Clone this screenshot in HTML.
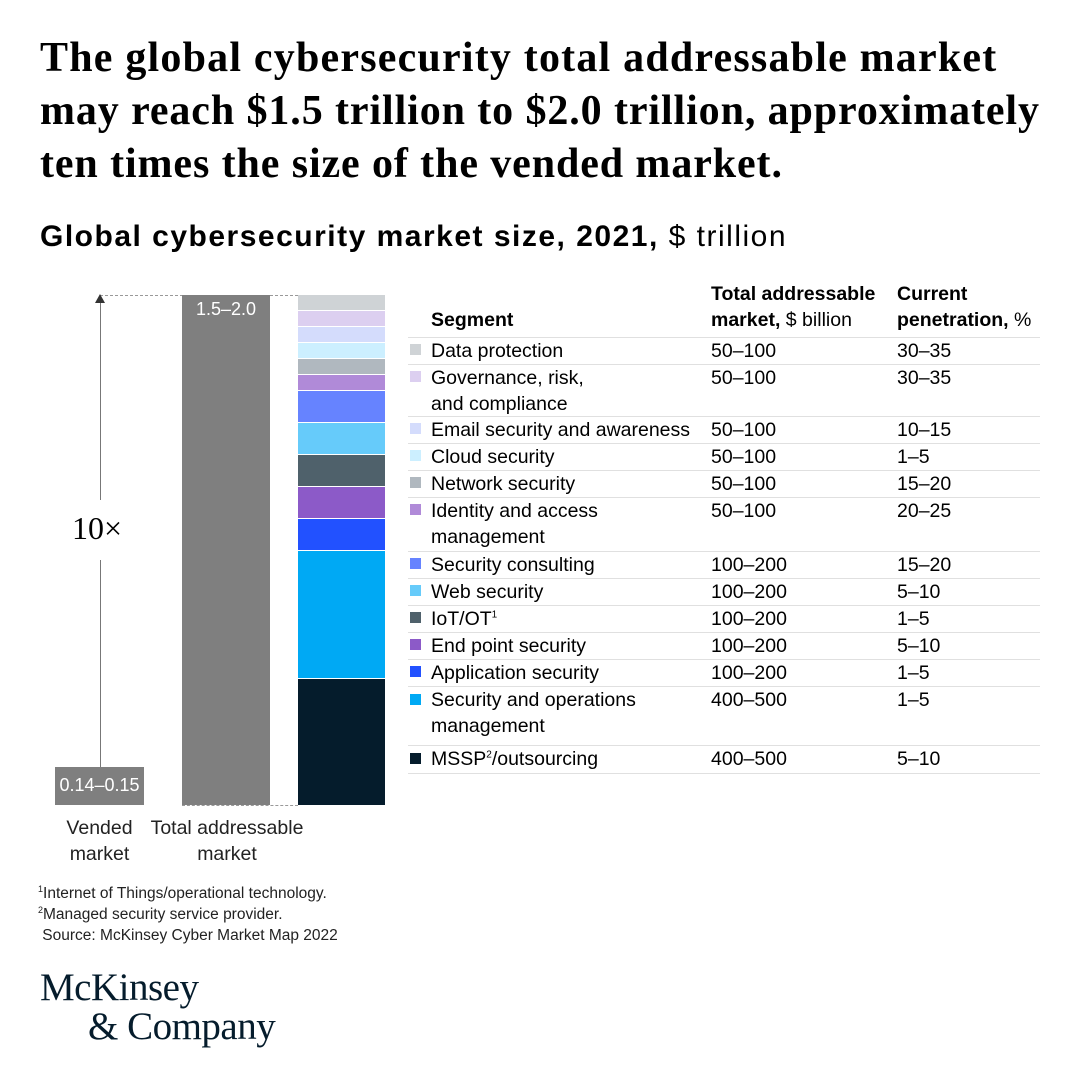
<!DOCTYPE html>
<html><head><meta charset="utf-8"><style>
body{margin:0;width:1080px;height:1080px;background:#fff;position:relative;overflow:hidden;font-family:"Liberation Sans",sans-serif;color:#000}
.a{position:absolute;white-space:nowrap}
.t{font-family:"Liberation Serif",serif;font-weight:bold;font-size:42px;left:40px;letter-spacing:0.9px}
.r{font-size:19.5px;line-height:26px}
.sw{position:absolute;width:11px;height:11px;left:410px}
.ln{position:absolute;left:408px;width:632px;height:1px;background:#e0e0e0}
.seg{position:absolute;left:298px;width:87px}
sup{line-height:0;vertical-align:super}
</style></head><body>
<div class="a t" style="top:34px;letter-spacing:1.2px">The global cybersecurity total addressable market</div>
<div class="a t" style="top:87px">may reach $1.5 trillion to $2.0 trillion, approximately</div>
<div class="a t" style="top:140px">ten times the size of the vended market.</div>
<div class="a" style="left:40px;top:220px;font-size:30px;letter-spacing:1.5px"><b>Global cybersecurity market size, 2021,</b> $ trillion</div>

<!-- left chart -->
<div class="a" style="left:100px;top:295px;width:198px;border-top:1px dashed #999;height:0"></div>
<div class="a" style="left:182px;top:805px;width:116px;border-top:1px dashed #999;height:0"></div>
<div class="a" style="left:99.5px;top:300px;width:1px;height:200px;background:#777"></div>
<div class="a" style="left:99.5px;top:560px;width:1px;height:208px;background:#777"></div>
<div class="a" style="left:95px;top:294px;width:0;height:0;border-left:5px solid transparent;border-right:5px solid transparent;border-bottom:9px solid #333"></div>
<div class="a" style="left:72px;top:510px;font-family:'Liberation Serif',serif;font-size:32px">10×</div>
<div class="a" style="left:55px;top:767px;width:89px;height:38px;background:#7f7f7f;color:#fff;font-size:18px;text-align:center;line-height:36px">0.14–0.15</div>
<div class="a" style="left:182px;top:295px;width:88px;height:510px;background:#7f7f7f;color:#fff;font-size:18px;text-align:center;line-height:28px">1.5–2.0</div>
<div class="seg" style="top:295px;height:15px;background:#cfd3d6"></div>
<div class="seg" style="top:311px;height:15px;background:#dccff0"></div>
<div class="seg" style="top:327px;height:15px;background:#d4dcfc"></div>
<div class="seg" style="top:343px;height:15px;background:#ccefff"></div>
<div class="seg" style="top:359px;height:15px;background:#b0b8bf"></div>
<div class="seg" style="top:375px;height:15px;background:#b08ad8"></div>
<div class="seg" style="top:391px;height:31px;background:#6683ff"></div>
<div class="seg" style="top:423px;height:31px;background:#66cbfa"></div>
<div class="seg" style="top:455px;height:31px;background:#4f616b"></div>
<div class="seg" style="top:487px;height:31px;background:#8c5ac8"></div>
<div class="seg" style="top:519px;height:31px;background:#2251ff"></div>
<div class="seg" style="top:551px;height:127px;background:#00a9f4"></div>
<div class="seg" style="top:679px;height:126px;background:#051c2c"></div>
<div class="a" style="left:50px;top:815px;width:99px;text-align:center;font-size:19.5px;line-height:26px;color:#222">Vended<br>market</div>
<div class="a" style="left:141px;top:815px;width:172px;text-align:center;font-size:19.5px;line-height:26px;color:#222">Total addressable<br>market</div>

<!-- table -->
<div class="a r" style="left:431px;top:307px;font-weight:bold">Segment</div>
<div class="a r" style="left:711px;top:281px"><b>Total addressable</b><br><b>market,</b> $ billion</div>
<div class="a r" style="left:897px;top:281px"><b>Current</b><br><b>penetration,</b> %</div>
<div class="ln" style="top:337px"></div>

<div class="sw" style="top:344px;background:#cfd3d6"></div><div class="a r" style="left:431px;top:338px">Data protection</div><div class="a r" style="left:711px;top:338px">50–100</div><div class="a r" style="left:897px;top:338px">30–35</div>
<div class="ln" style="top:364px"></div>
<div class="sw" style="top:371px;background:#dccff0"></div><div class="a r" style="left:431px;top:365px">Governance, risk,<br>and compliance</div><div class="a r" style="left:711px;top:365px">50–100</div><div class="a r" style="left:897px;top:365px">30–35</div>
<div class="ln" style="top:416px"></div>
<div class="sw" style="top:423px;background:#d4dcfc"></div><div class="a r" style="left:431px;top:417px">Email security and awareness</div><div class="a r" style="left:711px;top:417px">50–100</div><div class="a r" style="left:897px;top:417px">10–15</div>
<div class="ln" style="top:443px"></div>
<div class="sw" style="top:450px;background:#ccefff"></div><div class="a r" style="left:431px;top:444px">Cloud security</div><div class="a r" style="left:711px;top:444px">50–100</div><div class="a r" style="left:897px;top:444px">1–5</div>
<div class="ln" style="top:470px"></div>
<div class="sw" style="top:477px;background:#b0b8bf"></div><div class="a r" style="left:431px;top:471px">Network security</div><div class="a r" style="left:711px;top:471px">50–100</div><div class="a r" style="left:897px;top:471px">15–20</div>
<div class="ln" style="top:497px"></div>
<div class="sw" style="top:504px;background:#b08ad8"></div><div class="a r" style="left:431px;top:498px">Identity and access<br>management</div><div class="a r" style="left:711px;top:498px">50–100</div><div class="a r" style="left:897px;top:498px">20–25</div>
<div class="ln" style="top:551px"></div>
<div class="sw" style="top:558px;background:#6683ff"></div><div class="a r" style="left:431px;top:552px">Security consulting</div><div class="a r" style="left:711px;top:552px">100–200</div><div class="a r" style="left:897px;top:552px">15–20</div>
<div class="ln" style="top:578px"></div>
<div class="sw" style="top:585px;background:#66cbfa"></div><div class="a r" style="left:431px;top:579px">Web security</div><div class="a r" style="left:711px;top:579px">100–200</div><div class="a r" style="left:897px;top:579px">5–10</div>
<div class="ln" style="top:605px"></div>
<div class="sw" style="top:612px;background:#4f616b"></div><div class="a r" style="left:431px;top:606px">IoT/OT<sup style="font-size:10px">1</sup></div><div class="a r" style="left:711px;top:606px">100–200</div><div class="a r" style="left:897px;top:606px">1–5</div>
<div class="ln" style="top:632px"></div>
<div class="sw" style="top:639px;background:#8c5ac8"></div><div class="a r" style="left:431px;top:633px">End point security</div><div class="a r" style="left:711px;top:633px">100–200</div><div class="a r" style="left:897px;top:633px">5–10</div>
<div class="ln" style="top:659px"></div>
<div class="sw" style="top:666px;background:#2251ff"></div><div class="a r" style="left:431px;top:660px">Application security</div><div class="a r" style="left:711px;top:660px">100–200</div><div class="a r" style="left:897px;top:660px">1–5</div>
<div class="ln" style="top:686px"></div>
<div class="sw" style="top:694px;background:#00a9f4"></div><div class="a r" style="left:431px;top:687px">Security and operations<br>management</div><div class="a r" style="left:711px;top:687px">400–500</div><div class="a r" style="left:897px;top:687px">1–5</div>
<div class="ln" style="top:745px"></div>
<div class="sw" style="top:753px;background:#051c2c"></div><div class="a r" style="left:431px;top:746px">MSSP<sup style="font-size:10px">2</sup>/outsourcing</div><div class="a r" style="left:711px;top:746px">400–500</div><div class="a r" style="left:897px;top:746px">5–10</div>
<div class="ln" style="top:773px"></div>

<!-- footnotes -->
<div class="a" style="left:38px;top:883px;font-size:15.5px;line-height:21px;color:#222"><sup style="font-size:9px">1</sup>Internet of Things/operational technology.<br><sup style="font-size:9px">2</sup>Managed security service provider.<br>&nbsp;Source: McKinsey Cyber Market Map 2022</div>

<div class="a" style="left:40px;top:968px;font-family:'Liberation Serif',serif;font-size:39px;color:#051c2c;line-height:39px;letter-spacing:-0.5px">McKinsey</div>
<div class="a" style="left:88px;top:1007px;font-family:'Liberation Serif',serif;font-size:39px;color:#051c2c;line-height:39px;letter-spacing:-0.5px">&amp; Company</div>
</body></html>
